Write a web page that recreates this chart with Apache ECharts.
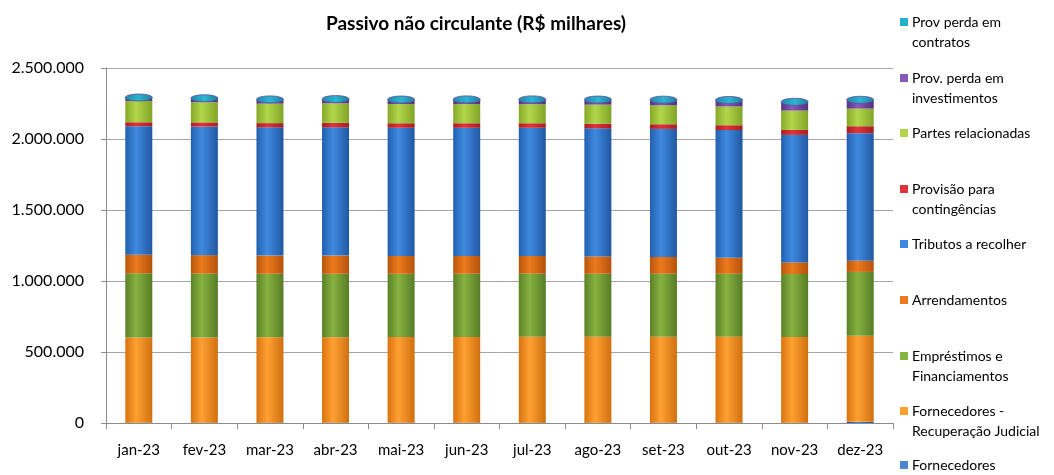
<!DOCTYPE html>
<html>
<head>
<meta charset="utf-8">
<script src="https://cdn.jsdelivr.net/npm/echarts@6/dist/echarts.min.js"></script>
<style>
  html, body { margin: 0; padding: 0; background: #fff; }
  #chart { width: 1054px; height: 475px; }
</style>
</head>
<body>
<div id="chart"></div>
<script>
// meses
var months = ['jan-23', 'fev-23', 'mar-23', 'abr-23', 'mai-23', 'jun-23', 'jul-23', 'ago-23', 'set-23', 'out-23', 'nov-23', 'dez-23'];

// valores em R$ mil
var fornecedores   = [2000, 2000, 2000, 2000, 2000, 2000, 2000, 2000, 2000, 2000, 2000, 8000];
var fornecedoresRJ = [600000, 600000, 601000, 602000, 603000, 604000, 605000, 605000, 606000, 606000, 603000, 607000];
var emprestimos    = [452000, 450000, 448000, 447000, 446000, 445000, 445000, 444000, 443000, 443000, 444000, 449000];
var arrendamentos  = [131000, 130000, 128000, 128000, 125000, 125000, 124000, 122000, 118000, 112000, 82000, 79000];
var tributos       = [905000, 905000, 903000, 903000, 903000, 903000, 903000, 902000, 902000, 900000, 898000, 898000];
var provContingencias = [28000, 30000, 30000, 32000, 32000, 32000, 32000, 33000, 33000, 34000, 35000, 49000];
var partesRelac    = [150000, 142000, 137000, 137000, 135000, 135000, 134000, 134000, 133000, 132000, 136000, 124000];
var provInvest     = [18000, 22000, 24000, 24000, 26000, 27000, 28000, 30000, 34000, 40000, 56000, 56000];
var provContratos  = [6000, 6000, 6000, 6000, 6000, 6000, 6000, 6000, 6000, 6000, 6000, 6000];

var yTicks = [0, 500000, 1000000, 1500000, 2000000, 2500000];

// ordem de empilhamento (de baixo pra cima)
var stackDefs = [
    {name: 'Fornecedores', data: fornecedores, color: ['#1f4f8f', '#4a86cf', '#1f4f8f'], label: 'Fornecedores'},
    {name: 'Fornecedores - Recuperação Judicial', data: fornecedoresRJ, color: ['#d9730f', '#ffa033', '#d0700f'], label: 'Fornecedores -\nRecuperação Judicial'},
    {name: 'Empréstimos e Financiamentos', data: emprestimos, color: ['#5b8128', '#86b240', '#577c26'], label: 'Empréstimos e\nFinanciamentos'},
    {name: 'Arrendamentos', data: arrendamentos, color: ['#b8550c', '#ec7a1c', '#b5520b'], label: 'Arrendamentos'},
    {name: 'Tributos a recolher', data: tributos, color: ['#225fae', '#3f8ae0', '#2158a3'], label: 'Tributos a recolher'},
    {name: 'Provisão para contingências', data: provContingencias, color: ['#a81c22', '#e0343a', '#a81c22'], label: 'Provisão para\ncontingências'},
    {name: 'Partes relacionadas', data: partesRelac, color: ['#86a82a', '#b2d64a', '#82a428'], label: 'Partes relacionadas'},
    {name: 'Prov. perda em investimentos', data: provInvest, color: ['#553382', '#8658b8', '#533180'], label: 'Prov. perda em\ninvestimentos'},
    {name: 'Prov perda em contratos', data: provContratos, color: ['#0f7f9a', '#23b0cf', '#0f7d98'], label: 'Prov perda em\ncontratos'}
];

// posicao vertical do icone da legenda (de cima pra baixo)
var legendY = [22, 78, 133, 189, 244, 300, 356, 411, 465];

var fontFam = 'Lato, "Open Sans", sans-serif';
var lineH = 20;
var barW = 27;

function fmt(v) {
    return String(v).replace(/\B(?=(\d{3})+(?!\d))/g, '.');
}

function grad(c) {
    return new echarts.graphic.LinearGradient(0, 0, 1, 0, [
        {offset: 0, color: c[0]},
        {offset: 0.4, color: c[1]},
        {offset: 1, color: c[2]}
    ]);
}

// total de cada mes, pra tampa do cilindro
var totals = months.map(function (m, i) {
    var s = 0;
    stackDefs.forEach(function (d) { s += d.data[i]; });
    return s;
});

var series = stackDefs.map(function (d) {
    return {
        name: d.name,
        type: 'bar',
        stack: 'total',
        barWidth: barW,
        data: d.data,
        itemStyle: {color: grad(d.color)},
        emphasis: {disabled: true}
    };
});

// tampa eliptica (efeito cilindro)
series.push({
    type: 'custom',
    silent: true,
    z: 5,
    data: totals.map(function (t, i) { return [i, t]; }),
    renderItem: function (params, api) {
        var p = api.coord([api.value(0), api.value(1)]);
        return {
            type: 'ellipse',
            shape: {cx: p[0], cy: p[1], rx: barW / 2, ry: 3.5},
            style: {
                fill: new echarts.graphic.LinearGradient(0, 0, 1, 0, [
                    {offset: 0, color: '#1a8aa8'},
                    {offset: 0.5, color: '#2cb5d2'},
                    {offset: 1, color: '#17819d'}
                ]),
                stroke: '#6a4a9a',
                lineWidth: 0.8
            }
        };
    }
});

// uma legenda por item, pra controlar a posicao
var legends = [];
var revDefs = stackDefs.slice().reverse();
revDefs.forEach(function (d, i) {
    var nLines = d.label.split('\n').length;
    // linha em branco antes, pra o icone ficar na primeira linha
    var txt = nLines > 1 ? ' \n' + d.label : d.label;
    var tot = nLines > 1 ? 3 : 1;
    legends.push({
        orient: 'vertical',
        left: 900,
        top: legendY[i] - tot * lineH / 2,
        padding: 0,
        itemWidth: 8,
        itemHeight: 8,
        itemGap: 0,
        icon: 'rect',
        selectedMode: false,
        data: [{name: d.name, itemStyle: {color: d.color[1]}}],
        formatter: function () { return txt; },
        textStyle: {
            fontFamily: fontFam,
            fontSize: 14,
            color: '#000',
            lineHeight: lineH,
            padding: [0, 0, 0, -1]
        }
    });
});

var option = {
    animation: false,
    backgroundColor: '#fff',
    title: {
        text: 'Passivo não circulante (R$ milhares)',
        left: 471,
        textAlign: 'center',
        top: 9,
        textStyle: {
            fontFamily: fontFam,
            fontSize: 19,
            fontWeight: 'bold',
            color: '#000'
        }
    },
    legend: legends,
    grid: {
        left: 106,
        right: 161,
        top: 68,
        bottom: 52
    },
    xAxis: {
        type: 'category',
        data: months,
        axisLine: {lineStyle: {color: '#8c8c8c'}},
        axisTick: {show: true, length: 6, lineStyle: {color: '#8c8c8c'}},
        axisLabel: {
            margin: 20,
            fontFamily: fontFam,
            fontSize: 15,
            color: '#000'
        }
    },
    yAxis: {
        type: 'value',
        min: yTicks[0],
        max: yTicks[yTicks.length - 1],
        interval: yTicks[1] - yTicks[0],
        axisLine: {show: true, lineStyle: {color: '#8c8c8c'}},
        axisTick: {show: true, length: 5, lineStyle: {color: '#8c8c8c'}},
        splitLine: {lineStyle: {color: '#a6a6a6', width: 1}},
        axisLabel: {
            margin: 22,
            fontFamily: fontFam,
            fontSize: 16,
            color: '#000',
            formatter: function (v) { return fmt(v); }
        }
    },
    series: series
};

var chart = echarts.init(document.getElementById('chart'));
chart.setOption(option);
</script>
</body>
</html>
